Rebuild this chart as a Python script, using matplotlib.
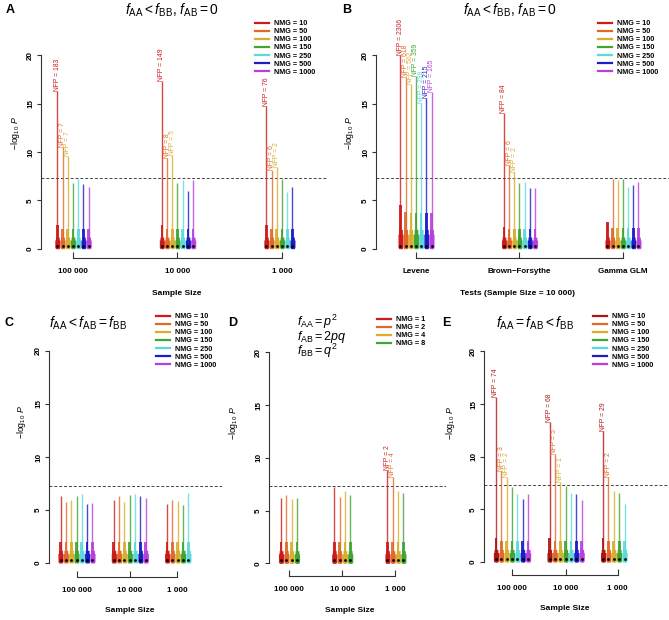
import numpy as np
import matplotlib
matplotlib.use("Agg")
from matplotlib import pyplot as plt
from matplotlib.lines import Line2D

plt.rcParams["font.family"] = ["Liberation Sans", "DejaVu Sans"]
plt.rcParams["mathtext.fontset"] = "custom"
plt.rcParams["mathtext.rm"] = "Liberation Sans"
plt.rcParams["mathtext.it"] = "Liberation Sans:italic"
plt.rcParams["mathtext.bf"] = "Liberation Sans:bold"

# ---- data -------------------------------------------------------------
nmg_labels = ["NMG = 10", "NMG = 50", "NMG = 100", "NMG = 150",
              "NMG = 250", "NMG = 500", "NMG = 1000"]
nmg_labels_d = ["NMG = 1", "NMG = 2", "NMG = 4", "NMG = 8"]
sample_sizes = ["100 000", "10 000", "1 000"]
tests = ["Levene", "Brown\u2212Forsythe", "Gamma GLM"]
threshold = -np.log10(5e-8)

# maximum -log10 P per group (rows) and NMG (columns); None = not run
a_max = [[16.3, 10.55, 9.6, 6.8, 7.2, 6.7, 6.4],
         [17.3, 9.35, 9.7, 6.8, 7.1, 6.0, 7.1],
         [14.8, 8.1, 8.5, 7.2, 5.9, 6.4, None]]
a_nfp = [[183, 7, 7, 0, 0, 0, 0],
         [149, 8, 5, 0, 0, 0, 0],
         [76, 6, 2, 0, 0, 0, 0]]
a_upper = [[2.5, 2.0, 2.0, 2.0, 2.0, 2.0, 2.0]] * 3

b_max = [[20.0, 17.8, 17.0, 17.9, 15.1, 15.6, 16.2],
         [14.0, 8.65, 7.97, 6.76, 6.9, 6.25, 6.25],
         [2.8, 7.25, 7.1, 7.25, 6.4, 6.6, 6.9]]
b_nfp = [[2306, 618, 502, 359, 298, 215, 165],
         [84, 6, 2, 0, 0, 0, 0],
         [0, 0, 0, 0, 0, 0, 0]]
b_upper = [[4.5, 3.8, 3.7, 3.7, 3.7, 3.7, 3.7],
           [2.2, 2.0, 2.0, 2.0, 2.0, 2.0, 2.0],
           [2.8, 2.1, 2.1, 2.1, 2.1, 2.1, 2.1]]
b_box = [2.0, 1.2, 1.2]

c_max = [[6.3, 5.75, 5.9, 6.3, 6.5, 5.6, 5.7],
         [5.9, 6.3, 5.75, 6.4, 6.5, 6.3, 6.1],
         [5.6, 5.9, 5.85, 5.5, 6.65, None, None]]
c_upper = [[2.0] * 7] * 3

d_max = [[6.2, 6.5, 6.1, 6.2],
         [7.25, 6.3, 6.9, 6.5],
         [8.85, 8.2, 6.9, 6.65]]
d_nfp = [[0, 0, 0, 0],
         [0, 0, 0, 0],
         [2, 4, 0, 0]]
d_upper = [[2.0] * 4] * 3

e_max = [[15.7, 8.6, 8.1, 7.15, 6.45, 5.95, 6.45],
         [13.3, 10.3, 7.6, 7.2, 6.6, 6.5, 5.9],
         [12.4, 8.1, 6.75, 6.6, 5.5, None, None]]
e_nfp = [[74, 3, 2, 0, 0, 0, 0],
         [68, 5, 1, 0, 0, 0, 0],
         [29, 2, 0, 0, 0, 0, 0]]
e_upper = [[2.3, 2.0, 2.0, 2.0, 2.0, 2.0, 2.0]] * 3

colors = ["#CC1B1B", "#E0692A", "#D9AE2C", "#40A532", "#5ADADA", "#1C1CC8", "#B93FDD"]
colors_e = ["#B01515"] + colors[1:]

# ---- figure -----------------------------------------------------------
W, H = 669, 620
fig = plt.figure(figsize=(W / 100, H / 100), dpi=100)


def px_axes(left, top, right, bottom):
    return fig.add_axes([left / W, 1 - bottom / H, (right - left) / W, (bottom - top) / H])


def ftext(x, y, s, **kw):
    fig.text(x / W, 1 - y / H, s, **kw)


def draw_violin(ax, x, vmax, upper, box_top, color):
    ax.plot([x, x], [0.05, vmax], color=color, lw=1.0, alpha=0.8,
            solid_capstyle="butt", zorder=2)
    ax.fill_between([x - 0.25, x + 0.25], 0.05, min(upper, vmax), color=color,
                    alpha=0.9, lw=0, zorder=3)
    ys = np.array([0.0, 0.15, box_top * 0.75, box_top * 0.75, box_top])
    hw = np.array([0.32, 0.48, 0.48, 0.36, 0.36])
    ax.fill_betweenx(ys, x - hw, x + hw, color=color, lw=0, zorder=4)
    ax.plot(x, 0.3, "o", color="black", ms=2.0, mew=0, zorder=5)


def draw_panel(ax, vmax, upper, nfp, box, cols, gap):
    n = len(vmax[0])
    for g, row in enumerate(vmax):
        for k, v in enumerate(row):
            if v is None:
                continue
            x = (g + 1) * gap + k - (n - 1) / 2
            draw_violin(ax, x, v, upper[g][k], box[g], cols[k])
            if nfp is not None and nfp[g][k] > 0:
                ax.text(x, v, f"NFP = {nfp[g][k]}", rotation=90, ha="center",
                        va="bottom", fontsize=4.9, color=cols[k], clip_on=False)


def style_axes(ax, ticks, labels, xlim, ylim):
    ax.set_xlim(*xlim)
    ax.set_ylim(*ylim)
    for s in ["top", "right"]:
        ax.spines[s].set_visible(False)
    for s in ["left", "bottom"]:
        ax.spines[s].set_color("#333333")
        ax.spines[s].set_linewidth(0.8)
    ax.spines["left"].set_bounds(0, 20)
    ax.spines["bottom"].set_bounds(ticks[0], ticks[-1])
    ax.set_yticks([0, 5, 10, 15, 20])
    ax.set_xticks(ticks, labels)
    ax.tick_params(axis="x", direction="in", length=4, width=0.8, pad=7,
                   labelsize=5.8, color="#333333")
    ax.tick_params(axis="y", direction="out", length=3, width=0.8, pad=2,
                   labelsize=5.8, labelrotation=90, color="#333333")
    for lab in ax.get_xticklabels() + ax.get_yticklabels():
        lab.set_fontweight("bold")
    for lab in ax.get_yticklabels():
        lab.set_va("center")
    ax.axhline(threshold, color="#444444", lw=0.7, ls=(0, (3, 2)), zorder=1)
    ax.patch.set_visible(False)


def add_legend(ax, labels, cols, x, y):
    handles = [Line2D([], [], color=c, lw=1.6) for c in cols]
    ax.legend(handles, labels, loc="upper left", bbox_to_anchor=(x / W, 1 - y / H),
              bbox_transform=fig.transFigure, frameon=False,
              prop={"size": 5.2, "weight": "bold"},
              handlelength=2.0, handletextpad=0.65, labelspacing=0.15,
              borderpad=0, borderaxespad=0)


ylab = r"$-\log_{10}\,P$"
title_kw = dict(fontsize=10, ha="center", va="center")
letter_kw = dict(fontsize=9, fontweight="bold", ha="center", va="center")
lab_kw = dict(fontsize=6, fontweight="bold", ha="center", va="center")
ylab_kw = dict(fontsize=6.3, ha="center", va="center", rotation=90)

# Panel A
ax = px_axes(41, 18, 328, 258)
draw_panel(ax, a_max, a_upper, a_nfp, [1.2, 1.2, 1.2], colors, 20)
style_axes(ax, [20, 40, 60], sample_sizes, (13.88, 68.8), (-0.96, 23.86))
add_legend(ax, nmg_labels, colors, 255, 20)
ftext(10, 10, "A", **letter_kw)
ftext(172, 10, r"$f_{\mathrm{AA}} < f_{\mathrm{BB}}$, $f_{\mathrm{AB}} = 0$", **title_kw)
ftext(15, 133, ylab, **ylab_kw)
ftext(177, 293, "Sample Size", **lab_kw)

# Panel B
ax = px_axes(376, 18, 669, 258)
draw_panel(ax, b_max, b_upper, b_nfp, b_box, colors, 20)
style_axes(ax, [20, 40, 60], tests, (12.27, 68.9), (-0.96, 23.86))
add_legend(ax, nmg_labels, colors, 598, 20)
ftext(347, 10, "B", **letter_kw)
ftext(510, 10, r"$f_{\mathrm{AA}} < f_{\mathrm{BB}}$, $f_{\mathrm{AB}} = 0$", **title_kw)
ftext(350, 133, ylab, **ylab_kw)
ftext(518, 293, "Tests (Sample Size = 10 000)", **lab_kw)

# Panel C
ax = px_axes(49, 325, 222, 577)
draw_panel(ax, c_max, c_upper, None, [1.2, 1.2, 1.2], colors, 10)
style_axes(ax, [10, 20, 28.9], sample_sizes, (4.84, 37.3), (-1.32, 22.45))
add_legend(ax, nmg_labels, colors, 156, 313)
ftext(9, 323, "C", **letter_kw)
ftext(88, 323, r"$f_{\mathrm{AA}} < f_{\mathrm{AB}} = f_{\mathrm{BB}}$", **title_kw)
ftext(22, 422, ylab, **ylab_kw)
ftext(130, 610, "Sample Size", **lab_kw)

# Panel D
ax = px_axes(269, 325, 446, 576)
draw_panel(ax, d_max, d_upper, d_nfp, [1.2, 1.2, 1.2], colors[:4], 10)
style_axes(ax, [10, 20, 30], sample_sizes, (6.24, 39.5), (-1.2, 22.6))
add_legend(ax, nmg_labels_d, colors[:4], 377, 316)
ftext(233, 323, "D", **letter_kw)
d_kw = dict(fontsize=9, ha="left", va="baseline")
ftext(297, 326, r"$f_{\mathrm{AA}} = p^2$", **d_kw)
ftext(297, 340, r"$f_{\mathrm{AB}} = 2pq$", **d_kw)
ftext(297, 354.5, r"$f_{\mathrm{BB}} = q^2$", **d_kw)
ftext(233, 423, ylab, **ylab_kw)
ftext(350, 610, "Sample Size", **lab_kw)

# Panel E
ax = px_axes(484, 325, 669, 575)
draw_panel(ax, e_max, e_upper, e_nfp, [1.2, 1.2, 1.2], colors_e, 10)
style_axes(ax, [10, 20, 29.7], sample_sizes, (4.77, 39.3), (-1.23, 22.5))
add_legend(ax, nmg_labels, colors_e, 593, 313)
ftext(446, 323, "E", **letter_kw)
ftext(535, 323, r"$f_{\mathrm{AA}} = f_{\mathrm{AB}} < f_{\mathrm{BB}}$", **title_kw)
ftext(450, 423, ylab, **ylab_kw)
ftext(565, 608, "Sample Size", **lab_kw)

fig.savefig("out.png", dpi=100)
